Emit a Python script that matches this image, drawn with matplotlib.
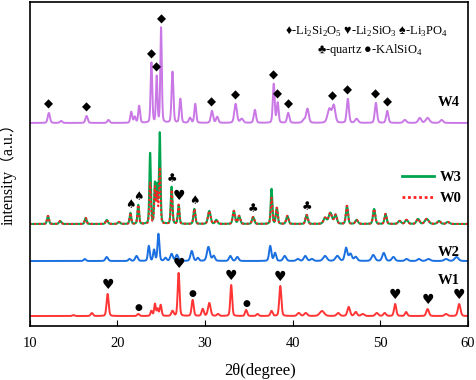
import numpy as np
import matplotlib
matplotlib.use("Agg")
import matplotlib.pyplot as plt
from matplotlib.lines import Line2D

plt.rcParams['font.family'] = ['Liberation Serif', 'DejaVu Sans', 'Noto Sans CJK SC']
plt.rcParams['mathtext.fontset'] = 'custom'
plt.rcParams['mathtext.rm'] = 'Liberation Serif'
plt.rcParams['mathtext.fallback'] = 'stix'

# peak tables: position (deg), intensity (a.u.), width (deg)
w4_pos = [12.2, 13.6, 16.5, 19.0, 21.6, 22.0, 22.5, 23.9, 24.5, 25.0, 26.3, 27.2, 28.3, 28.9,
          30.8, 31.4, 33.5, 34.2, 35.7, 37.85, 38.3, 39.5, 41.3, 41.7, 44.2, 44.7, 46.3, 47.3,
          49.5, 50.8, 52.8, 54.5, 55.4, 57.0]
w4_int = [10, 2, 7, 3, 11, 6, 17, 60, 46, 95, 51, 24, 5, 19,
          12, 6, 19, 4, 13, 39, 20, 10, 3, 14, 14, 17, 24, 4,
          20, 12, 3, 5, 5, 3]
w4_wid = [0.3, 0.3, 0.3, 0.3, 0.25, 0.25, 0.25, 0.22, 0.2, 0.2, 0.25, 0.25, 0.3, 0.25,
          0.3, 0.3, 0.35, 0.4, 0.3, 0.25, 0.25, 0.3, 0.4, 0.35, 0.5, 0.4, 0.3, 0.4,
          0.3, 0.3, 0.4, 0.4, 0.5, 0.4]

w3_pos = [12.1, 13.5, 16.4, 18.8, 20.2, 21.5, 22.4, 23.75, 24.3, 24.55, 24.85, 26.2, 27.0, 28.8,
          30.5, 31.3, 33.3, 33.9, 35.5, 37.6, 38.2, 39.4, 41.6, 43.7, 44.3, 44.9, 46.2, 47.3,
          49.3, 50.6, 52.2, 53.0, 54.3, 55.3, 56.7, 57.7]
w3_int = [8, 3, 6, 4, 2, 11, 19, 71, 40, 37, 91, 37, 19, 15,
          13, 4, 13, 8, 7, 35, 16, 8, 9, 6, 11, 9, 18, 4,
          15, 10, 3, 4, 5, 5, 3, 2]
w0_int = [8, 3, 6, 4, 2, 11, 19, 41, 36, 30, 56, 34, 19, 15,
          13, 4, 13, 8, 7, 26, 16, 8, 9, 6, 11, 9, 18, 4,
          15, 10, 3, 4, 5, 5, 3, 2]
w3_wid = [0.25, 0.3, 0.25, 0.3, 0.3, 0.22, 0.22, 0.2, 0.2, 0.18, 0.2, 0.22, 0.22, 0.25,
          0.35, 0.3, 0.3, 0.3, 0.3, 0.22, 0.25, 0.3, 0.3, 0.4, 0.45, 0.35, 0.28, 0.35,
          0.3, 0.28, 0.4, 0.4, 0.4, 0.5, 0.4, 0.4]

w2_pos = [16.3, 18.8, 21.4, 22.2, 23.6, 24.2, 24.7, 25.5, 26.2, 26.8, 28.5, 29.2, 30.4, 31.0,
          32.9, 33.7, 37.45, 38.0, 39.1, 40.6, 41.45, 42.2, 43.7, 45.1, 46.1, 46.6, 47.2,
          49.2, 50.4, 51.5, 53.0, 54.4, 55.5, 57.5, 58.7]
w2_int = [2, 4, 2, 5, 15, 11, 27, 3, 7, 6, 10, 3, 14, 5,
          5, 4, 15, 8, 5, 2, 5, 2, 5, 5, 13, 7, 4,
          6, 8, 4, 2, 2, 2, 2, 4]
w2_wid = [0.3, 0.35, 0.3, 0.35, 0.25, 0.25, 0.25, 0.3, 0.35, 0.35, 0.35, 0.3, 0.4, 0.35,
          0.35, 0.35, 0.3, 0.3, 0.4, 0.4, 0.4, 0.4, 0.5, 0.5, 0.35, 0.4, 0.4,
          0.45, 0.4, 0.4, 0.4, 0.4, 0.5, 0.5, 0.5]

w1_pos = [15.0, 17.1, 18.9, 22.4, 23.9, 24.3, 24.6, 24.95, 26.3, 27.0, 28.6, 29.75, 30.5, 31.5,
          33.0, 34.7, 36.0, 37.6, 38.6, 40.7, 41.5, 43.35, 45.2, 46.4, 47.2, 48.0,
          49.6, 50.5, 51.7, 52.95, 55.4, 57.5, 59.0]
w1_int = [1, 3, 22, 2, 5, 12, 7, 11, 5, 43, 16, 7, 13, 2,
          31, 6, 2, 5, 30, 3, 3, 5, 3, 9, 4, 2,
          3, 3, 12, 4, 7, 2, 12]
w1_wid = [0.3, 0.3, 0.28, 0.3, 0.25, 0.22, 0.22, 0.25, 0.3, 0.25, 0.28, 0.3, 0.35, 0.3,
          0.25, 0.28, 0.3, 0.3, 0.28, 0.4, 0.4, 0.6, 0.4, 0.35, 0.35, 0.4,
          0.4, 0.35, 0.3, 0.3, 0.35, 0.4, 0.35]

# vertical offsets of the stacked patterns
offsets = {'W1': 10, 'W2': 65, 'W3': 102, 'W4': 203}

# phase markers: (2theta, symbol)
w4_marks = [(12.2, '◆'), (16.5, '◆'), (23.9, '◆'), (24.5, '◆'), (25.0, '◆'), (30.8, '◆'),
            (33.5, '◆'), (37.85, '◆'), (38.3, '◆'), (39.5, '◆'), (44.5, '◆'), (46.3, '◆'),
            (49.5, '◆'), (50.8, '◆')]
w3_marks = [(21.5, '♠'), (22.4, '♠'), (26.2, '♣'), (27.0, '♥'), (28.8, '♠'), (35.5, '♣'),
            (41.6, '♣')]
w1_marks = [(18.9, '♥'), (22.4, '●'), (27.0, '♥'), (28.6, '●'), (33.0, '♥'), (34.7, '●'),
            (38.6, '♥'), (51.7, '♥'), (55.4, '♥'), (59.0, '♥')]
mark_size = {'◆': 8.5, '♥': 10, '♠': 8.5, '♣': 8.5, '●': 6.5}

x = np.arange(10, 60.001, 0.02)


def pattern(pos, inten, wid):
    y = np.zeros_like(x)
    for p, h, w in zip(pos, inten, wid):
        g = np.exp(-4 * np.log(2) * ((x - p) / w) ** 2)
        lz = 1 / (1 + 4 * ((x - p) / w) ** 2)
        y += h * (0.75 * g + 0.25 * lz)
    return y


y4 = pattern(w4_pos, w4_int, w4_wid) + offsets['W4']
y3 = pattern(w3_pos, w3_int, w3_wid) + offsets['W3']
y0 = pattern(w3_pos, w0_int, w3_wid) + offsets['W3']
y2 = pattern(w2_pos, w2_int, w2_wid) + offsets['W2']
y1 = pattern(w1_pos, w1_int, w1_wid) + offsets['W1']

fig = plt.figure(figsize=(4.77, 3.80), dpi=100)
ax = fig.add_axes([0.062, 0.142, 0.919, 0.853])

c4, c3, c0, c2, c1 = '#C978E6', '#00A550', '#FF2020', '#1A70E0', '#FF3535'
ax.plot(x, y4, color=c4, lw=1.4)
ax.plot(x, y3, color=c3, lw=1.5)
ax.plot(x, y0, color=c0, lw=1.5, linestyle=(0, (1, 1.2)))
ax.plot(x, y2, color=c2, lw=1.4)
ax.plot(x, y1, color=c1, lw=1.4)


def put_marks(marks, yy):
    for p, s in marks:
        m = (x > p - 0.25) & (x < p + 0.25)
        top = yy[m].max()
        ax.text(p, top + 2, s, ha='center', va='bottom', fontsize=mark_size[s],
                family='DejaVu Sans', color='black')


put_marks(w4_marks, y4)
put_marks(w3_marks, y3)
put_marks(w1_marks, y1)

ax.text(59.1, 223, 'W4', ha='right', va='center', fontsize=10.5, fontweight='bold')
ax.text(59.1, 74, 'W2', ha='right', va='center', fontsize=10.5, fontweight='bold')
ax.text(59.1, 46, 'W1', ha='right', va='center', fontsize=10.5, fontweight='bold')

ax.text(48.4, 294, '♦-Li$_\\mathregular{2}$Si$_\\mathregular{2}$O$_\\mathregular{5}$ '
        '♥-Li$_\\mathregular{2}$SiO$_\\mathregular{3}$ ♠-Li$_\\mathregular{3}$PO$_\\mathregular{4}$',
        ha='center', va='center', fontsize=9)
ax.text(48.8, 276, '♣-quartz ●-KAlSiO$_\\mathregular{4}$', ha='center', va='center', fontsize=9)

handles = [Line2D([], [], color=c3, lw=2),
           Line2D([], [], color=c0, lw=2, linestyle=(0, (1, 1)))]
ax.legend(handles, ['W3', 'W0'], loc='center right', bbox_to_anchor=(0.985, 0.426),
          frameon=False, handlelength=2.2, handletextpad=0.35, labelspacing=0.5,
          borderpad=0, borderaxespad=0, prop={'weight': 'bold', 'size': 10.5})

ax.set_xlim(10, 60)
ax.set_ylim(0, 324)
ax.set_yticks([])
ax.set_xticks([10, 20, 30, 40, 50, 60])
ax.tick_params(axis='x', direction='in', length=4, labelsize=10.5, pad=8)
for s in ax.spines.values():
    s.set_linewidth(1.2)

ax.set_xlabel('2θ(degree)', fontsize=12)
ax.xaxis.set_label_coords(0.526, -0.115)
ax.set_ylabel('intensity（a.u.）', fontsize=11.5)
ax.yaxis.set_label_coords(-0.029, 0.48)

fig.savefig('out.png', dpi=100)
